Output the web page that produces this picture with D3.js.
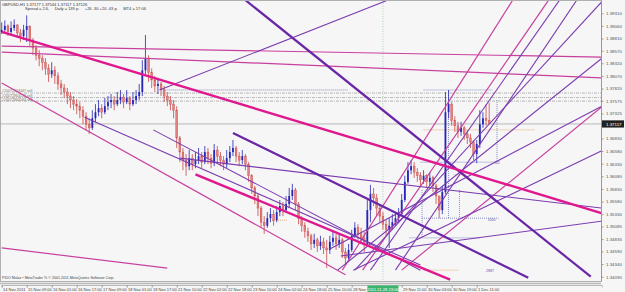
<!DOCTYPE html>
<html>
<head>
<meta charset="utf-8">
<script src="https://cdn.jsdelivr.net/npm/d3@7"></script>
<style>
body { margin: 0; background: #f6f6f6; }
svg { display: block; font-family: "Liberation Sans", Arial, sans-serif; }
</style>
</head>
<body>
<div id="chart"></div>
<script>
// GBPUSD H1, one candle per two hours (hour index = 2 * position)
var firstOpen = 1.3894;
var closes = [1.3898,1.3906,1.3894,1.3902,1.3908,1.3892,1.3886,1.3898,1.3906,1.3878,
    1.3862,1.3848,1.3842,1.3834,1.3822,1.3810,1.3818,1.3807,1.3791,1.3783,
    1.3775,1.3767,1.3759,1.3751,1.3747,1.3739,1.3727,1.3711,1.3704,1.3723,
    1.3735,1.3743,1.3735,1.3747,1.3755,1.3759,1.3751,1.3759,1.3765,1.3755,
    1.3763,1.3751,1.3759,1.3767,1.3775,1.3818,1.3842,1.3814,1.3799,1.3787,
    1.3791,1.3779,1.3767,1.3759,1.3751,1.3739,1.3684,1.3656,1.3640,1.3628,
    1.3644,1.3632,1.3640,1.3648,1.3636,1.3656,1.3644,1.3634,1.3660,1.3648,
    1.3640,1.3632,1.3644,1.3656,1.3664,1.3648,1.3640,1.3648,1.3632,1.3609,
    1.3585,1.3569,1.3545,1.3517,1.3510,1.3525,1.3533,1.3521,1.3537,1.3549,
    1.3541,1.3553,1.3569,1.3581,1.3553,1.3525,1.3510,1.3498,1.3490,1.3474,
    1.3482,1.3470,1.3478,1.3466,1.3462,1.3478,1.3486,1.3474,1.3482,1.3458,
    1.3446,1.3462,1.3490,1.3506,1.3494,1.3486,1.3474,1.3541,1.3573,1.3565,
    1.3545,1.3529,1.3513,1.3502,1.3510,1.3517,1.3525,1.3533,1.3561,1.3597,
    1.3620,1.3628,1.3616,1.3609,1.3601,1.3609,1.3597,1.3605,1.3589,1.3569,
    1.3541,1.3577,1.3735,1.3751,1.3719,1.3708,1.3696,1.3704,1.3692,1.3684,
    1.3676,1.3652,1.3672,1.3711,1.3723,1.3719,1.3713];
var highs = [1.3913,1.3917,1.3909,1.3915,1.3919,1.3909,1.3900,1.3908,1.3927,1.3902,
    1.3882,1.3868,1.3858,1.3848,1.3842,1.3830,1.3834,1.3826,1.3814,1.3799,
    1.3791,1.3783,1.3775,1.3767,1.3761,1.3755,1.3747,1.3735,1.3723,1.3739,
    1.3751,1.3759,1.3751,1.3763,1.3767,1.3771,1.3767,1.3775,1.3779,1.3771,
    1.3779,1.3767,1.3775,1.3779,1.3791,1.3838,1.3888,1.3848,1.3822,1.3807,
    1.3803,1.3795,1.3787,1.3775,1.3767,1.3759,1.3747,1.3688,1.3664,1.3652,
    1.3660,1.3652,1.3656,1.3664,1.3656,1.3668,1.3664,1.3652,1.3672,1.3668,
    1.3656,1.3648,1.3660,1.3668,1.3680,1.3668,1.3656,1.3660,1.3652,1.3636,
    1.3612,1.3589,1.3573,1.3549,1.3529,1.3537,1.3545,1.3541,1.3549,1.3561,
    1.3557,1.3569,1.3585,1.3593,1.3585,1.3557,1.3529,1.3517,1.3506,1.3494,
    1.3494,1.3486,1.3490,1.3486,1.3482,1.3490,1.3498,1.3494,1.3494,1.3486,
    1.3466,1.3474,1.3502,1.3517,1.3513,1.3506,1.3498,1.3561,1.3591,1.3585,
    1.3573,1.3553,1.3537,1.3521,1.3525,1.3533,1.3537,1.3545,1.3573,1.3609,
    1.3636,1.3640,1.3636,1.3624,1.3616,1.3620,1.3612,1.3616,1.3609,1.3593,
    1.3569,1.3589,1.3775,1.3779,1.3755,1.3727,1.3716,1.3716,1.3708,1.3700,
    1.3692,1.3680,1.3680,1.3739,1.3735,1.3751,1.3754];
var lows = [1.3890,1.3892,1.3886,1.3890,1.3896,1.3882,1.3874,1.3878,1.3874,1.3866,
    1.3848,1.3838,1.3826,1.3818,1.3809,1.3795,1.3803,1.3791,1.3779,1.3769,
    1.3763,1.3751,1.3743,1.3739,1.3731,1.3723,1.3711,1.3700,1.3692,1.3700,
    1.3715,1.3727,1.3723,1.3731,1.3739,1.3743,1.3739,1.3747,1.3751,1.3743,
    1.3751,1.3739,1.3747,1.3751,1.3759,1.3767,1.3810,1.3795,1.3783,1.3775,
    1.3771,1.3767,1.3755,1.3747,1.3739,1.3723,1.3664,1.3636,1.3620,1.3609,
    1.3620,1.3620,1.3624,1.3632,1.3624,1.3632,1.3632,1.3624,1.3628,1.3636,
    1.3628,1.3620,1.3624,1.3636,1.3648,1.3636,1.3628,1.3632,1.3620,1.3597,
    1.3573,1.3553,1.3529,1.3506,1.3494,1.3506,1.3517,1.3510,1.3517,1.3529,
    1.3529,1.3537,1.3545,1.3561,1.3541,1.3513,1.3498,1.3486,1.3478,1.3462,
    1.3466,1.3458,1.3462,1.3454,1.3426,1.3454,1.3470,1.3462,1.3466,1.3446,
    1.3434,1.3438,1.3458,1.3486,1.3482,1.3474,1.3458,1.3470,1.3517,1.3549,
    1.3529,1.3517,1.3502,1.3490,1.3466,1.3502,1.3510,1.3517,1.3529,1.3557,
    1.3593,1.3612,1.3605,1.3597,1.3589,1.3593,1.3585,1.3589,1.3577,1.3553,
    1.3525,1.3533,1.3573,1.3723,1.3708,1.3696,1.3684,1.3688,1.3680,1.3672,
    1.3664,1.3640,1.3634,1.3664,1.3704,1.3708,1.3712];

var priceTicks = [1.39310,1.39060,1.38810,1.38570,1.38320,1.38070,1.37820,1.37575,1.37325,
    1.36830,1.36580,1.36330,1.36080,1.35830,1.35580,1.35330,1.35085,1.34835,1.34590,1.34340,1.34090];
// the 28 Nov 18:00 slot is hidden under the crosshair time box
var timeLabels = ["14 Nov 2011","15 Nov 09:00","16 Nov 01:00","16 Nov 17:00","17 Nov 09:00",
    "18 Nov 01:00","18 Nov 17:00","21 Nov 10:00","22 Nov 02:00","22 Nov 18:00","23 Nov 10:00",
    "24 Nov 02:00","24 Nov 18:00","25 Nov 10:00","28 Nov 02:00","","29 Nov 11:00",
    "30 Nov 03:00","30 Nov 19:00","1 Dec 11:00"];
var bid = 1.37117;
var orderPrices = [1.3773, 1.3764, 1.3757];
var orderNames = ["#20072864447 sell", "#20072864532 sell", "#20072864584 sell"];
var markerHour = 244;
var markerLabel = "2011.11.28 23:00";

// trend lines: [hour1, price1, hour2, price2]
var thickPink = [[0,1.3894,384,1.3535],[124,1.3612,287,1.3403]];
var thinPink = [[0,1.3866,384,1.3844],[0,1.3854,384,1.3803],[0,1.3793,220,1.3413],
    [0,1.3466,106,1.3426],[218,1.3422,327,1.3957],[231,1.3422,350,1.3957],[256,1.3422,387,1.3753]];
var thickPurple = [[156,1.3957,377,1.3409],[148,1.3694,337,1.3407]];
var thinPurple = [[101,1.3779,247,1.3957],[53,1.3725,268,1.3432],[236,1.3422,357,1.3957],
    [252,1.3422,368,1.3957],[226,1.3422,385,1.3957],[215,1.3422,389,1.3854],[225,1.3422,389,1.3666],
    [114,1.3644,384,1.3545],[217,1.3450,384,1.3519],[210,1.3464,384,1.3747],[97,1.3700,268,1.3422]];
var blueDots = [[103,1.3779,222,1.3779],[270,1.3779,314,1.3779],[286,1.3777,286,1.3525],
    [317,1.3759,317,1.3636],[268,1.3636,317,1.3636],[269,1.3525,318,1.3525],[261,1.3486,306,1.3486],
    [269,1.3581,269,1.3486],[293,1.3581,293,1.3525]];
var orangeDots = [[270,1.3700,341,1.3700],[289,1.3611,295,1.3611],[270,1.3422,293,1.3422],[173,1.3521,183,1.3521]];
var smallNotes = [[315,1.3632,"722"],[311,1.3519,"1000"],[310,1.3418,"2887"]];

var W = 625, H = 292;
var plotRight = 601, plotBottom = 281;

var svg = d3.select("#chart").append("svg")
    .attr("width", W)
    .attr("height", H);

var x = d3.scaleLinear().domain([0, 384]).range([1.7, 601.7]);
var y = d3.scaleLinear().domain([1.3409, 1.3931]).range([276.7, 13.3]);

svg.append("defs").append("clipPath")
    .attr("id", "plotClip")
    .append("rect")
    .attr("x", 0).attr("y", 1)
    .attr("width", plotRight).attr("height", plotBottom - 1);

// frame
svg.append("rect")
    .attr("x", 0.5).attr("y", 0.5)
    .attr("width", plotRight).attr("height", plotBottom)
    .attr("fill", "#f6f6f6")
    .attr("stroke", "#b0b0b0");

var plot = svg.append("g").attr("clip-path", "url(#plotClip)");

function segs(g, data, color, width, dash) {
    g.selectAll(null)
        .data(data)
        .enter().append("line")
        .attr("x1", function(d) { return x(d[0]); })
        .attr("y1", function(d) { return y(d[1]); })
        .attr("x2", function(d) { return x(d[2]); })
        .attr("y2", function(d) { return y(d[3]); })
        .attr("stroke", color)
        .attr("stroke-width", width)
        .attr("stroke-dasharray", dash || null);
}

// vertical marker line
plot.append("line")
    .attr("x1", x(markerHour)).attr("x2", x(markerHour))
    .attr("y1", 1).attr("y2", plotBottom)
    .attr("stroke", "#9cc8a8").attr("stroke-width", 0.8)
    .attr("stroke-dasharray", "1,1.5");

// order lines
orderPrices.forEach(function(p, i) {
    plot.append("line")
        .attr("x1", 0).attr("x2", plotRight)
        .attr("y1", y(p)).attr("y2", y(p))
        .attr("stroke", "#9a9a9a").attr("stroke-width", 0.7)
        .attr("stroke-dasharray", "3,1,1,1");
    plot.append("text")
        .attr("x", 2).attr("y", y(p) - 0.6)
        .attr("font-size", 3.6).attr("fill", "#777")
        .text(orderNames[i]);
});

// bid line
plot.append("line")
    .attr("x1", 0).attr("x2", plotRight)
    .attr("y1", y(bid)).attr("y2", y(bid))
    .attr("stroke", "#a8a8a8").attr("stroke-width", 0.8);

segs(plot, blueDots, "#6a74b4", 0.8, "1,1");
segs(plot, orangeDots, "#e0a060", 0.8, "1,1");

// candles
var candles = closes.map(function(c, i) {
    return {h: i * 2, o: i ? closes[i - 1] : firstOpen, c: c, hi: highs[i], lo: lows[i]};
});
var bull = "#2626b8", bear = "#c84848";

plot.selectAll(".wick")
    .data(candles)
    .enter().append("line")
    .attr("class", "wick")
    .attr("x1", function(d) { return x(d.h); })
    .attr("x2", function(d) { return x(d.h); })
    .attr("y1", function(d) { return y(d.hi); })
    .attr("y2", function(d) { return y(d.lo); })
    .attr("stroke", function(d) { return d.c >= d.o ? bull : bear; })
    .attr("stroke-width", 0.8);

plot.selectAll(".body")
    .data(candles)
    .enter().append("rect")
    .attr("class", "body")
    .attr("x", function(d) { return x(d.h) - 0.9; })
    .attr("width", 1.8)
    .attr("y", function(d) { return y(Math.max(d.o, d.c)); })
    .attr("height", function(d) { return Math.max(0.6, Math.abs(y(d.o) - y(d.c))); })
    .attr("fill", function(d) { return d.c >= d.o ? bull : "#e48080"; })
    .attr("stroke", function(d) { return d.c >= d.o ? "none" : bear; })
    .attr("stroke-width", 0.4);

// trend lines
segs(plot, thinPink, "#c8409e", 1.2);
segs(plot, thinPurple, "#7c3cb0", 1.1);
segs(plot, thickPurple, "#6a26a6", 2.2);
segs(plot, thickPink, "#e0188e", 2.4);

// small notes
plot.selectAll(".note")
    .data(smallNotes)
    .enter().append("text")
    .attr("class", "note")
    .attr("x", function(d) { return x(d[0]); })
    .attr("y", function(d) { return y(d[1]); })
    .attr("font-size", 3.6).attr("fill", "#5a5ab0")
    .text(function(d) { return d[2]; });

// header
svg.append("text").attr("x", 2).attr("y", 5.5)
    .attr("font-size", 4).attr("fill", "#333")
    .text("GBPUSD,H1  1.37177 1.37544 1.37117 1.37126");
svg.append("text").attr("x", 25).attr("y", 10)
    .attr("font-size", 4).attr("fill", "#333")
    .attr("xml:space", "preserve")
    .text("Spread = 2.6,     Daily = 139 p.     +26 -30 +20 -43 p.     MT4 = 17:06");

// footer
svg.append("text").attr("x", 2).attr("y", 279)
    .attr("font-size", 3.6).attr("fill", "#444")
    .text("PIDO Malaz \u2022 MetaTrader % \u00a9 2001-2011 MetaQuotes Software Corp.");
svg.append("line").attr("x1", 0).attr("x2", plotRight)
    .attr("y1", 283.5).attr("y2", 283.5)
    .attr("stroke", "#b8b8b8").attr("stroke-width", 1.5);

// price axis
var yAxis = svg.append("g")
    .attr("class", "axis y")
    .attr("transform", "translate(" + plotRight + ",0)")
    .call(d3.axisRight(y).tickValues(priceTicks).tickSize(2.5).tickFormat(d3.format(".5f")));
yAxis.select(".domain").attr("stroke", "#999").attr("d", "M0.5,0V" + plotBottom);
yAxis.selectAll(".tick line").attr("stroke", "#999");
yAxis.selectAll("text")
    .attr("x", 5).attr("font-size", 4.4).attr("fill", "#555")
    .attr("font-family", "Liberation Sans, Arial, sans-serif");

// current price box
svg.append("rect")
    .attr("x", plotRight + 1).attr("y", y(bid) - 3.6)
    .attr("width", 22).attr("height", 7.2)
    .attr("fill", "#202020");
svg.append("text")
    .attr("x", plotRight + 5).attr("y", y(bid) + 1.6)
    .attr("font-size", 4.4).attr("fill", "#fff")
    .text(d3.format(".5f")(bid));

// time axis
var xAxis = svg.append("g")
    .attr("class", "axis x")
    .attr("transform", "translate(0," + (plotBottom + 4) + ")")
    .call(d3.axisBottom(x)
        .tickValues(d3.range(0, timeLabels.length * 16, 16))
        .tickSize(2.5)
        .tickFormat(function(d) { return timeLabels[d / 16]; }));
xAxis.select(".domain").attr("stroke", "#b8b8b8");
xAxis.selectAll(".tick line").attr("stroke", "#999");
xAxis.selectAll("text")
    .style("text-anchor", "start")
    .attr("dx", 0.8).attr("y", 2.5).attr("dy", "0.8em")
    .attr("font-size", 4).attr("fill", "#444")
    .attr("font-family", "Liberation Sans, Arial, sans-serif");

// crosshair time label
svg.append("rect")
    .attr("x", x(markerHour) - 15.5).attr("y", plotBottom + 4.5)
    .attr("width", 31).attr("height", 6.5)
    .attr("fill", "#3cb46e");
svg.append("text")
    .attr("x", x(markerHour)).attr("y", plotBottom + 9.5)
    .attr("text-anchor", "middle")
    .attr("font-size", 4.2).attr("fill", "#fff")
    .text(markerLabel);
</script>
</body>
</html>
